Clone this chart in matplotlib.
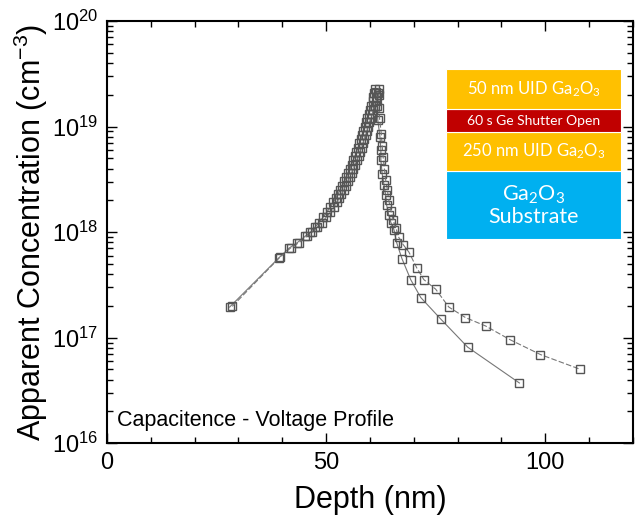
import matplotlib
matplotlib.use('Agg')
import matplotlib.pyplot as plt
from matplotlib.patches import Rectangle
from matplotlib.ticker import LogLocator, MultipleLocator, NullFormatter

plt.rcParams['font.family'] = 'Liberation Sans'
plt.rcParams['mathtext.fontset'] = 'custom'
plt.rcParams['mathtext.rm'] = 'Liberation Sans'
plt.rcParams['mathtext.it'] = 'Liberation Sans:italic'

# C-V profile, first sweep (solid line)
depth_a = [28.0, 39.3, 41.6, 43.4, 45.2, 46.4, 47.5, 48.4, 49.3, 50.2,
           51.0, 51.6, 52.2, 52.7, 53.2, 53.7, 54.2, 54.6, 55.0, 55.4,
           55.8, 56.2, 56.6, 56.9, 57.3, 57.6, 57.9, 58.2, 58.5, 58.8,
           59.1, 59.4, 59.7, 60.0, 60.3, 60.6, 60.8, 61.0, 61.2,
           61.5, 61.7, 61.8, 62.3, 62.5, 62.5, 62.8, 63.2, 63.6, 63.8, 64.3,
           64.8, 65.5, 66.1, 67.3, 69.3, 71.6, 76.1, 82.3, 94.1]
conc_a = [1.95e17, 5.75e17, 7.08e17, 7.94e17, 9.12e17, 1.00e18, 1.12e18,
          1.23e18, 1.38e18, 1.55e18,
          1.74e18, 1.91e18, 2.09e18, 2.29e18, 2.51e18, 2.75e18, 3.02e18,
          3.31e18, 3.63e18, 3.98e18, 4.37e18, 4.79e18, 5.25e18, 5.75e18,
          6.31e18, 6.92e18, 7.59e18, 8.32e18, 9.12e18, 1.00e19, 1.10e19,
          1.20e19, 1.32e19, 1.45e19, 1.58e19, 1.74e19, 1.91e19, 2.09e19,
          2.29e19,
          2.14e19, 1.58e19, 1.15e19, 7.94e18, 6.03e18, 4.79e18, 3.55e18,
          2.82e18, 2.24e18, 1.82e18, 1.45e18, 1.23e18, 1.05e18, 7.94e17,
          5.62e17, 3.55e17, 2.40e17, 1.51e17, 8.13e16, 3.72e16]

# second sweep (dashed line)
depth_b = [28.6, 39.5, 41.9, 43.8, 45.6, 46.9, 48.0, 49.0, 50.0, 51.0,
           51.8, 52.4, 53.0, 53.5, 54.0, 54.5, 55.0, 55.4, 55.8, 56.2,
           56.6, 57.0, 57.4, 57.7, 58.1, 58.4, 58.7, 59.0, 59.3, 59.6,
           59.9, 60.2, 60.5, 60.8, 61.1, 61.4, 61.6, 61.8, 62.0,
           62.0, 62.1, 62.2, 62.6, 62.8, 63.0, 63.3, 63.6, 64.0, 64.3, 64.8,
           65.3, 65.9, 66.6, 67.6, 68.9, 70.7, 72.3, 75.0, 78.0, 81.8, 86.4,
           92.0, 98.9, 108.0]
conc_b = [1.98e17, 5.80e17, 7.08e17, 7.94e17, 9.12e17, 1.00e18, 1.12e18,
          1.23e18, 1.38e18, 1.55e18,
          1.74e18, 1.91e18, 2.09e18, 2.29e18, 2.51e18, 2.75e18, 3.02e18,
          3.31e18, 3.63e18, 3.98e18, 4.37e18, 4.79e18, 5.25e18, 5.75e18,
          6.31e18, 6.92e18, 7.59e18, 8.32e18, 9.12e18, 1.00e19, 1.10e19,
          1.20e19, 1.32e19, 1.45e19, 1.58e19, 1.74e19, 1.91e19, 2.09e19,
          2.29e19,
          2.00e19, 1.50e19, 1.20e19, 8.50e18, 6.60e18, 5.20e18, 4.00e18,
          3.10e18, 2.50e18, 2.00e18, 1.60e18, 1.30e18, 1.10e18, 8.90e17,
          7.60e17, 6.46e17, 4.57e17, 3.55e17, 2.88e17, 1.95e17, 1.55e17,
          1.29e17, 9.55e16, 6.92e16, 5.01e16]

# layer stack drawn in the corner (bottom, top in axes fraction)
stack_labels = ['Ga$_{\\mathregular{2}}$O$_{\\mathregular{3}}$\nSubstrate',
                '250 nm UID Ga$_{\\mathregular{2}}$O$_{\\mathregular{3}}$',
                '60 s Ge Shutter Open',
                '50 nm UID Ga$_{\\mathregular{2}}$O$_{\\mathregular{3}}$']
stack_bounds = [(0.483, 0.645), (0.645, 0.737), (0.737, 0.791), (0.791, 0.886)]
stack_colors = ['#00B0F0', '#FFC000', '#C00000', '#FFC000']
stack_sizes = [15.5, 12, 10, 12]

fig = plt.figure(figsize=(6.4, 5.27), dpi=100)
ax = fig.add_axes([0.167, 0.159, 0.822, 0.801])

ax.plot(depth_a, conc_a, color='#777777', lw=0.8, ls='-',
        marker='s', ms=6.2, mfc='none', mec='#555555', mew=1.0)
ax.plot(depth_b, conc_b, color='#777777', lw=0.8, ls=(0, (5, 2)),
        marker='s', ms=6.2, mfc='none', mec='#555555', mew=1.0)

ax.set_yscale('log')
ax.set_xlim(0, 120)
ax.set_ylim(1e16, 1e20)
ax.xaxis.set_major_locator(MultipleLocator(50))
ax.xaxis.set_minor_locator(MultipleLocator(10))
ax.yaxis.set_major_locator(LogLocator(base=10, numticks=10))
ax.yaxis.set_minor_locator(LogLocator(base=10, subs=range(2, 10), numticks=10))
ax.yaxis.set_minor_formatter(NullFormatter())

ax.tick_params(which='both', direction='in', top=True, right=True,
               width=1.0, labelsize=17, colors='black')
ax.tick_params(which='major', length=7, pad=6)
ax.tick_params(which='minor', length=4)
for sp in ax.spines.values():
    sp.set_linewidth(1.5)

ax.set_xlabel('Depth (nm)', fontsize=22, labelpad=8)
ax.set_ylabel('Apparent Concentration (cm$^{\\mathregular{-3}}$)', fontsize=22,
              labelpad=2)

ax.text(0.019, 0.04, 'Capacitence - Voltage Profile', transform=ax.transAxes,
        fontsize=15.5, ha='left', va='baseline')

for lab, (y0, y1), col, fs in zip(stack_labels, stack_bounds, stack_colors, stack_sizes):
    ax.add_patch(Rectangle((0.6445, y0), 0.3325, y1 - y0, transform=ax.transAxes,
                           facecolor=col, edgecolor='white', lw=0.8, zorder=3))
    ax.text(0.811, (y0 + y1) / 2, lab, transform=ax.transAxes, color='white',
            fontsize=fs, family='Lato', ha='center', va='center',
            linespacing=1.1, zorder=4)

plt.savefig('out.png', dpi=100)
